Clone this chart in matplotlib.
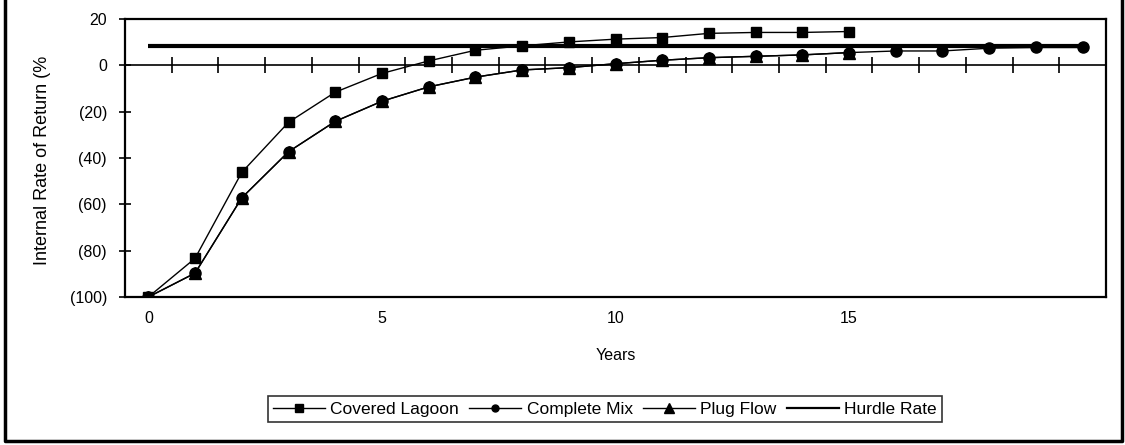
import matplotlib
matplotlib.use("Agg")
import matplotlib.pyplot as plt
import numpy as np
from matplotlib.lines import Line2D

plt.rcParams['font.family'] = ['Liberation Sans', 'DejaVu Sans']

# Internal rate of return (%) by year of operation
years_lagoon = list(range(0, 16))
covered_lagoon = [-100, -83.3, -46.2, -24.6, -11.6, -3.5, 1.9, 6.5, 8.4, 10.1,
                  11.3, 12.0, 13.8, 14.2, 14.2, 14.6]

years_mix = list(range(0, 21))
complete_mix = [-100, -89.7, -57.2, -37.3, -24.2, -15.5, -9.3, -5.1, -2.0, -1.0,
                0.7, 2.2, 3.3, 3.9, 4.5, 5.5, 6.2, 6.2, 7.4, 7.7, 7.7]

years_plug = list(range(0, 16))
plug_flow = [-100, -89.7, -57.2, -37.3, -24.2, -15.5, -9.3, -5.1, -2.0, -1.0,
             0.7, 2.2, 3.3, 3.9, 4.5, 5.5]

years_hurdle = [0, 20]
hurdle_rate = [8.4, 8.4]

y_ticks = [-100, -80, -60, -40, -20, 0, 20]
x_label_ticks = [0, 5, 10, 15]

W, H = 1125, 445
fig = plt.figure(figsize=(W / 100, H / 100), dpi=100)
ax = fig.add_axes([125 / W, 1 - 297 / H, 981 / W, 278 / H])

lw = 1.0
ax.plot(years_lagoon, covered_lagoon, color='black', lw=lw, marker='s', ms=7,
        label='Covered Lagoon', zorder=4)
ax.plot(years_mix, complete_mix, color='black', lw=lw, marker='o', ms=8,
        label='Complete Mix', zorder=4)
ax.plot(years_plug, plug_flow, color='black', lw=lw, marker='^', ms=8,
        label='Plug Flow', zorder=4)
ax.plot(years_hurdle, hurdle_rate, color='black', lw=3, label='Hurdle Rate',
        zorder=3, solid_capstyle='butt')

ax.set_xlim(-0.5, 20.5)
ax.set_ylim(-100, 20)

# Horizontal category axis crossing at zero with tick marks between categories
ax.axhline(0, color='black', lw=1.2, zorder=2)
cat_bounds = np.arange(0.5, 20.0, 1.0)
ax.plot(cat_bounds, np.zeros_like(cat_bounds), ls='none', marker='|', ms=11,
        mew=1.2, color='black', zorder=2)

for s in ax.spines.values():
    s.set_linewidth(1.6)

fs = 11.5
ax.set_yticks(y_ticks)
ax.set_yticklabels([f"({abs(v)})" if v < 0 else f"{v}" for v in y_ticks],
                   fontsize=fs)
ax.tick_params(axis='y', direction='inout', length=8, width=1.2, pad=9)

ax.set_xticks(x_label_ticks)
ax.set_xticklabels([str(v) for v in x_label_ticks], fontsize=fs)
ax.tick_params(axis='x', length=0, pad=10)

ax.set_xlabel('Years', fontsize=fs, labelpad=16)
ax.set_ylabel('Internal Rate of Return (%', fontsize=13)
ax.yaxis.set_label_coords(-74 / 981, 0.49)

handles = [
    Line2D([], [], color='black', lw=1, marker='s', ms=6),
    Line2D([], [], color='black', lw=1, marker='o', ms=5),
    Line2D([], [], color='black', lw=1, marker='^', ms=7),
    Line2D([], [], color='black', lw=1.6),
]
labels = ['Covered Lagoon', 'Complete Mix', 'Plug Flow', 'Hurdle Rate']
leg = fig.legend(handles, labels, loc='center', ncol=4,
                 bbox_to_anchor=(605 / W, 1 - 409 / H), fontsize=12.5,
                 frameon=True, fancybox=False, handlelength=3.0,
                 handletextpad=0.3, columnspacing=0.6, borderpad=0.3,
                 edgecolor='black')
leg.get_frame().set_linewidth(1.2)

# Outer chart border: left, bottom and right edges
bx0, bx1, by0 = 5 / W, 1122 / W, 1 - 441 / H
fig.add_artist(Line2D([bx0, bx0, bx1, bx1], [1.0, by0, by0, 1.0],
                      transform=fig.transFigure, color='black', lw=2.5))

fig.savefig('out.png', dpi=100)
